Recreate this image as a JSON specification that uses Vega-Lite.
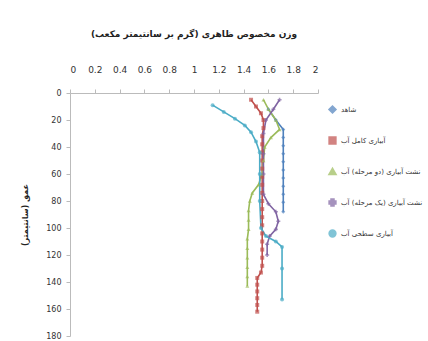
{
  "$schema": "https://vega.github.io/schema/vega-lite/v6.json",
  "autosize": "none",
  "padding": {"left": 70, "top": 93, "right": 110, "bottom": 5},
  "width": 248,
  "height": 243,
  "background": "white",
  "config": {"font": "DejaVu Sans", "view": {"stroke": null}},
  "title": {"text": "وزن مخصوص ظاهری (گرم بر سانتیمتر مکعب)", "fontSize": 9, "fontWeight": "bold", "color": "#222", "anchor": "middle", "offset": 26},
  "data": {"values": [
    {"s": "شاهد", "d": 12, "v": 1.6},
    {"s": "شاهد", "d": 20, "v": 1.66},
    {"s": "شاهد", "d": 27, "v": 1.72},
    {"s": "شاهد", "d": 33, "v": 1.72},
    {"s": "شاهد", "d": 39, "v": 1.72},
    {"s": "شاهد", "d": 45, "v": 1.72},
    {"s": "شاهد", "d": 51, "v": 1.72},
    {"s": "شاهد", "d": 57, "v": 1.72},
    {"s": "شاهد", "d": 63, "v": 1.72},
    {"s": "شاهد", "d": 69, "v": 1.72},
    {"s": "شاهد", "d": 75, "v": 1.72},
    {"s": "شاهد", "d": 81, "v": 1.72},
    {"s": "شاهد", "d": 88, "v": 1.72},

    {"s": "آبیاری کامل آب", "d": 5, "v": 1.46},
    {"s": "آبیاری کامل آب", "d": 10, "v": 1.5},
    {"s": "آبیاری کامل آب", "d": 15, "v": 1.54},
    {"s": "آبیاری کامل آب", "d": 20, "v": 1.56},
    {"s": "آبیاری کامل آب", "d": 26, "v": 1.56},
    {"s": "آبیاری کامل آب", "d": 32, "v": 1.55},
    {"s": "آبیاری کامل آب", "d": 38, "v": 1.55},
    {"s": "آبیاری کامل آب", "d": 44, "v": 1.55},
    {"s": "آبیاری کامل آب", "d": 50, "v": 1.55},
    {"s": "آبیاری کامل آب", "d": 56, "v": 1.55},
    {"s": "آبیاری کامل آب", "d": 62, "v": 1.55},
    {"s": "آبیاری کامل آب", "d": 68, "v": 1.55},
    {"s": "آبیاری کامل آب", "d": 74, "v": 1.55},
    {"s": "آبیاری کامل آب", "d": 80, "v": 1.55},
    {"s": "آبیاری کامل آب", "d": 86, "v": 1.55},
    {"s": "آبیاری کامل آب", "d": 92, "v": 1.55},
    {"s": "آبیاری کامل آب", "d": 98, "v": 1.55},
    {"s": "آبیاری کامل آب", "d": 104, "v": 1.55},
    {"s": "آبیاری کامل آب", "d": 110, "v": 1.55},
    {"s": "آبیاری کامل آب", "d": 116, "v": 1.55},
    {"s": "آبیاری کامل آب", "d": 122, "v": 1.55},
    {"s": "آبیاری کامل آب", "d": 128, "v": 1.55},
    {"s": "آبیاری کامل آب", "d": 133, "v": 1.54},
    {"s": "آبیاری کامل آب", "d": 137, "v": 1.51},
    {"s": "آبیاری کامل آب", "d": 142, "v": 1.51},
    {"s": "آبیاری کامل آب", "d": 147, "v": 1.51},
    {"s": "آبیاری کامل آب", "d": 152, "v": 1.51},
    {"s": "آبیاری کامل آب", "d": 157, "v": 1.51},
    {"s": "آبیاری کامل آب", "d": 162, "v": 1.51},

    {"s": "نشت آبیاری (دو مرحله) آب", "d": 5, "v": 1.56},
    {"s": "نشت آبیاری (دو مرحله) آب", "d": 12, "v": 1.6},
    {"s": "نشت آبیاری (دو مرحله) آب", "d": 20, "v": 1.66},
    {"s": "نشت آبیاری (دو مرحله) آب", "d": 27, "v": 1.69},
    {"s": "نشت آبیاری (دو مرحله) آب", "d": 33, "v": 1.62},
    {"s": "نشت آبیاری (دو مرحله) آب", "d": 40, "v": 1.57},
    {"s": "نشت آبیاری (دو مرحله) آب", "d": 50, "v": 1.56},
    {"s": "نشت آبیاری (دو مرحله) آب", "d": 60, "v": 1.55},
    {"s": "نشت آبیاری (دو مرحله) آب", "d": 68, "v": 1.52},
    {"s": "نشت آبیاری (دو مرحله) آب", "d": 74, "v": 1.47},
    {"s": "نشت آبیاری (دو مرحله) آب", "d": 80, "v": 1.45},
    {"s": "نشت آبیاری (دو مرحله) آب", "d": 87, "v": 1.44},
    {"s": "نشت آبیاری (دو مرحله) آب", "d": 94, "v": 1.44},
    {"s": "نشت آبیاری (دو مرحله) آب", "d": 101, "v": 1.44},
    {"s": "نشت آبیاری (دو مرحله) آب", "d": 108, "v": 1.43},
    {"s": "نشت آبیاری (دو مرحله) آب", "d": 115, "v": 1.43},
    {"s": "نشت آبیاری (دو مرحله) آب", "d": 122, "v": 1.43},
    {"s": "نشت آبیاری (دو مرحله) آب", "d": 129, "v": 1.43},
    {"s": "نشت آبیاری (دو مرحله) آب", "d": 136, "v": 1.43},
    {"s": "نشت آبیاری (دو مرحله) آب", "d": 143, "v": 1.43},

    {"s": "نشت آبیاری (یک مرحله) آب", "d": 5, "v": 1.69},
    {"s": "نشت آبیاری (یک مرحله) آب", "d": 12, "v": 1.64},
    {"s": "نشت آبیاری (یک مرحله) آب", "d": 20, "v": 1.58},
    {"s": "نشت آبیاری (یک مرحله) آب", "d": 30, "v": 1.56},
    {"s": "نشت آبیاری (یک مرحله) آب", "d": 45, "v": 1.56},
    {"s": "نشت آبیاری (یک مرحله) آب", "d": 60, "v": 1.56},
    {"s": "نشت آبیاری (یک مرحله) آب", "d": 75, "v": 1.56},
    {"s": "نشت آبیاری (یک مرحله) آب", "d": 82, "v": 1.6},
    {"s": "نشت آبیاری (یک مرحله) آب", "d": 88, "v": 1.66},
    {"s": "نشت آبیاری (یک مرحله) آب", "d": 95, "v": 1.68},
    {"s": "نشت آبیاری (یک مرحله) آب", "d": 101, "v": 1.66},
    {"s": "نشت آبیاری (یک مرحله) آب", "d": 106, "v": 1.61},
    {"s": "نشت آبیاری (یک مرحله) آب", "d": 112, "v": 1.59},
    {"s": "نشت آبیاری (یک مرحله) آب", "d": 120, "v": 1.59},

    {"s": "آبیاری سطحی آب", "d": 9, "v": 1.15},
    {"s": "آبیاری سطحی آب", "d": 14, "v": 1.24},
    {"s": "آبیاری سطحی آب", "d": 19, "v": 1.33},
    {"s": "آبیاری سطحی آب", "d": 24, "v": 1.41},
    {"s": "آبیاری سطحی آب", "d": 29, "v": 1.46},
    {"s": "آبیاری سطحی آب", "d": 36, "v": 1.5},
    {"s": "آبیاری سطحی آب", "d": 44, "v": 1.53},
    {"s": "آبیاری سطحی آب", "d": 60, "v": 1.53},
    {"s": "آبیاری سطحی آب", "d": 80, "v": 1.53},
    {"s": "آبیاری سطحی آب", "d": 100, "v": 1.54},
    {"s": "آبیاری سطحی آب", "d": 106, "v": 1.58},
    {"s": "آبیاری سطحی آب", "d": 110, "v": 1.66},
    {"s": "آبیاری سطحی آب", "d": 114, "v": 1.71},
    {"s": "آبیاری سطحی آب", "d": 130, "v": 1.71},
    {"s": "آبیاری سطحی آب", "d": 153, "v": 1.71}
  ]},
  "encoding": {
    "x": {"field": "v", "type": "quantitative",
      "scale": {"domain": [0, 2], "nice": false},
      "axis": {"orient": "top", "values": [0, 0.2, 0.4, 0.6, 0.8, 1, 1.2, 1.4, 1.6, 1.8, 2], "format": "~g", "grid": false, "title": null, "labelFontSize": 9, "labelColor": "#333", "domainColor": "#bbb", "tickColor": "#bbb", "tickSize": 4, "labelPadding": 15}},
    "y": {"field": "d", "type": "quantitative",
      "scale": {"domain": [0, 180], "nice": false, "reverse": true},
      "axis": {"values": [0, 20, 40, 60, 80, 100, 120, 140, 160, 180], "grid": false, "title": "عمق (سانتیمتر)", "titleFontSize": 8, "titleFontWeight": "bold", "titleColor": "#222", "titlePadding": 16, "labelFontSize": 8, "labelColor": "#333", "domainColor": "#bbb", "tickColor": "#bbb", "tickSize": 4, "labelPadding": 5}},
    "color": {"field": "s", "type": "nominal",
      "scale": {"domain": ["شاهد", "آبیاری کامل آب", "نشت آبیاری (دو مرحله) آب", "نشت آبیاری (یک مرحله) آب", "آبیاری سطحی آب"],
                "range": ["#4F81BD", "#C0504D", "#9BBB59", "#8064A2", "#4BACC6"]},
      "legend": {"title": null, "orient": "none", "legendX": 258, "legendY": 12, "rowPadding": 16, "labelFontSize": 7, "labelColor": "#333", "symbolSize": 40, "symbolStrokeWidth": 2}}
  },
  "layer": [
    {"mark": {"type": "line", "strokeWidth": 1.6}, "encoding": {"order": {"field": "d", "type": "quantitative"}}},
    {"mark": {"type": "point", "filled": true, "size": 16},
     "encoding": {"shape": {"field": "s", "type": "nominal",
       "scale": {"domain": ["شاهد", "آبیاری کامل آب", "نشت آبیاری (دو مرحله) آب", "نشت آبیاری (یک مرحله) آب", "آبیاری سطحی آب"],
                 "range": ["diamond", "square", "triangle-up", "cross", "circle"]},
       "legend": {"title": null, "orient": "none", "legendX": 258, "legendY": 12, "rowPadding": 16, "labelFontSize": 7, "labelColor": "#333", "symbolSize": 40}}}}
  ]
}
